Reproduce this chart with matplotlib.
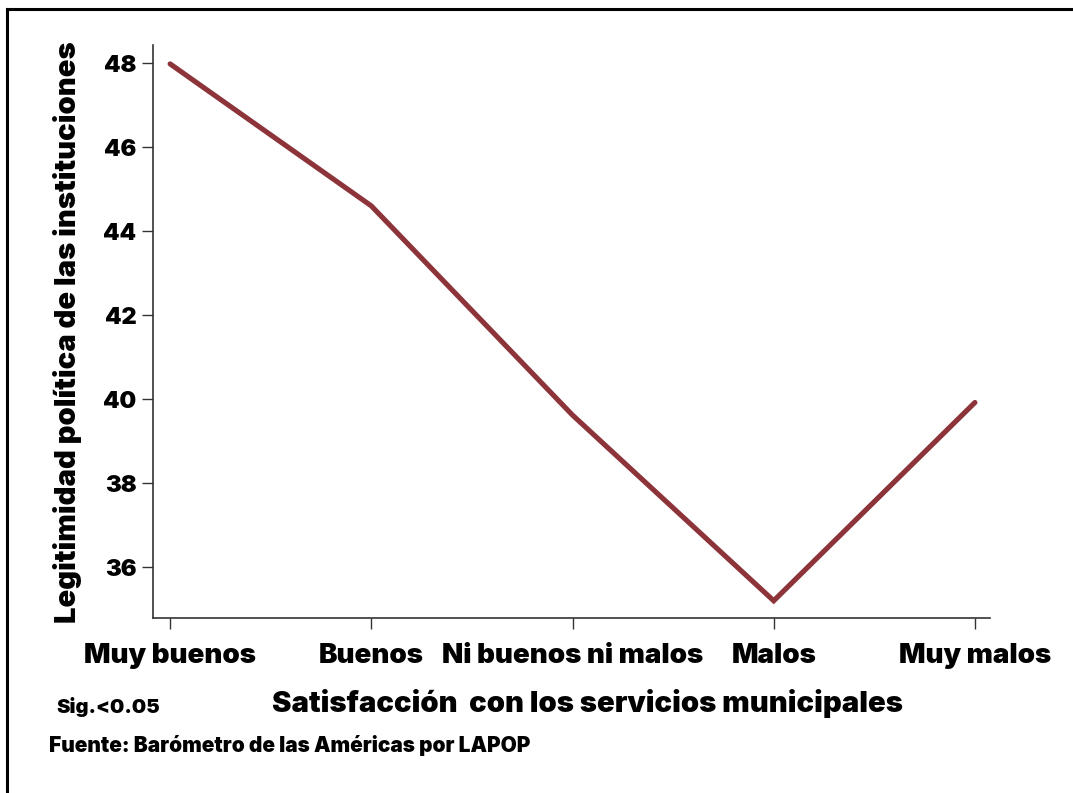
import matplotlib
matplotlib.use("Agg")
import matplotlib.pyplot as plt
from matplotlib.lines import Line2D

categories = ["Muy buenos", "Buenos", "Ni buenos ni malos", "Malos", "Muy malos"]
values = [47.98, 44.6, 39.62, 35.2, 39.92]
yticks = [36, 38, 40, 42, 44, 46, 48]

plt.rcParams['font.family'] = ['Inter', 'DejaVu Sans']
plt.rcParams['font.weight'] = 'black'

W, H = 1073, 793
fig = plt.figure(figsize=(W / 100, H / 100), dpi=100)

def fx(px):
    return px / W

def fy(py):
    return 1 - py / H

ax = fig.add_axes([fx(153), fy(618), fx(990) - fx(153), fy(45) - fy(618)])
x = list(range(len(categories)))
ax.plot(x, values, color='#8C3439', lw=3.7, solid_capstyle='round', solid_joinstyle='miter')
ax.set_xlim(-0.085, 4.075)
ax.set_ylim(34.79, 48.43)
ax.set_yticks(yticks)
ax.set_yticklabels([str(t) for t in yticks], fontsize=17, fontweight='black')
ax.set_xticks(x)
ax.set_xticklabels(categories, fontsize=20, fontweight='black')
for s in ['top', 'right']:
    ax.spines[s].set_visible(False)
for s in ['left', 'bottom']:
    ax.spines[s].set_color('#333333')
    ax.spines[s].set_linewidth(1.2)
ax.tick_params(axis='both', direction='out', length=8, width=1.0, color='#333333')
ax.tick_params(axis='x', pad=10)
ax.tick_params(axis='y', pad=4)

fig.text(fx(68), fy(332), "Legitimidad política de las instituciones", rotation=90,
         ha='center', va='center', fontsize=21, fontweight='black')
fig.text(fx(587), fy(703), "Satisfacción  con los servicios municipales",
         ha='center', va='center', fontsize=21, fontweight='black')
fig.text(fx(108), fy(707), "Sig.<0.05", ha='center', va='center', fontsize=14.5, fontweight='black')
fig.text(fx(49), fy(745), "Fuente: Barómetro de las Américas por LAPOP",
         ha='left', va='center', fontsize=15, fontweight='black')

# figure frame (top and left edges)
fig.add_artist(Line2D([fx(7), 1.0], [fy(9), fy(9)], color='black', lw=2.2, transform=fig.transFigure))
fig.add_artist(Line2D([fx(7), fx(7)], [fy(9), 0.0], color='black', lw=2.2, transform=fig.transFigure))

fig.savefig("out.png", dpi=100)
